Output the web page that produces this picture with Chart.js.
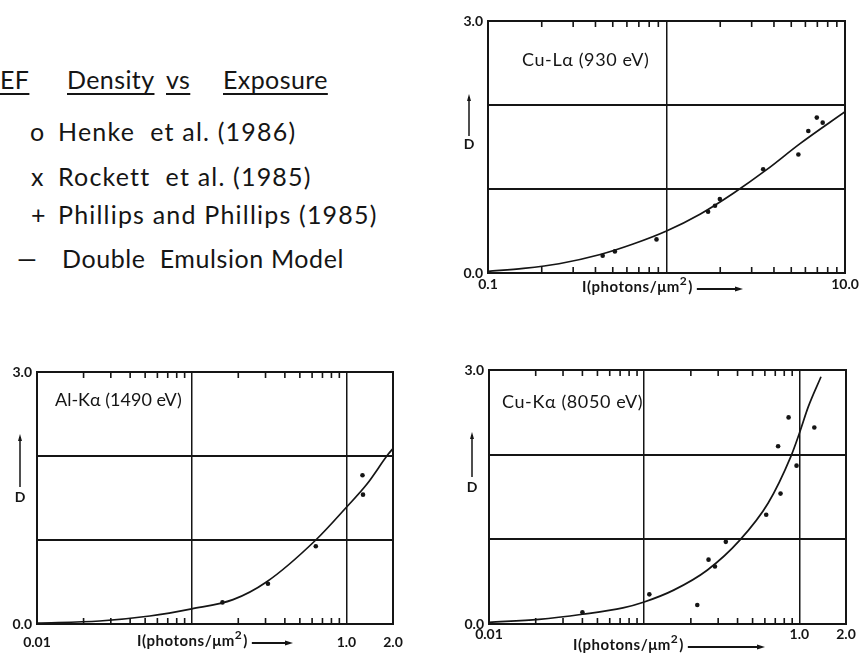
<!DOCTYPE html>
<html>
<head>
<meta charset="UTF-8">
<title>Density vs Exposure</title>
<script src="https://cdn.jsdelivr.net/npm/chart.js"></script>
<style>
  body { margin: 0; background: #fff; }
  #page { position: relative; width: 864px; height: 653px; overflow: hidden; font-family: Lato, "Noto Sans", sans-serif; color: #151515; }
  canvas { position: absolute; }
  .w { position: absolute; font-size: 25px; line-height: 30px; white-space: pre; letter-spacing: 1.2px; }
  .u { text-decoration: underline; text-decoration-thickness: 2px; text-underline-offset: 4px; letter-spacing: 0.4px; }
</style>
</head>
<body>
<div id="page">
  <div class="w u" style="left:0;top:64px">EF</div>
  <div class="w u" style="left:67px;top:64px">Density</div>
  <div class="w u" style="left:166px;top:64px">vs</div>
  <div class="w u" style="left:223px;top:64px">Exposure</div>

  <div class="w" style="left:30px;top:116px">o</div>
  <div class="w" style="left:58px;top:116px">Henke  et al. (1986)</div>
  <div class="w" style="left:31px;top:161px">x</div>
  <div class="w" style="left:58px;top:161px">Rockett  et al. (1985)</div>
  <div class="w" style="left:31px;top:199px">+</div>
  <div class="w" style="left:58px;top:199px">Phillips and Phillips (1985)</div>
  <div class="w" style="left:17px;top:243px">—</div>
  <div class="w" style="left:62px;top:243px;letter-spacing:0.6px">Double  Emulsion Model</div>

  <canvas id="cuLa" width="424" height="300" style="left:440px;top:0"></canvas>
  <canvas id="alKa" width="430" height="323" style="left:0;top:330px"></canvas>
  <canvas id="cuKa" width="424" height="323" style="left:440px;top:330px"></canvas>
</div>

<script>
// Cu-La (930 eV): measured points and model curve
const cuLaX = [0.439, 0.514, 0.879, 1.71, 1.87, 1.99, 3.48, 5.48, 6.23, 6.95, 7.5];
const cuLaD = [0.205, 0.257, 0.40, 0.73, 0.80, 0.88, 1.235, 1.41, 1.69, 1.85, 1.79];
const cuLaModelX = [0.1, 0.158, 0.25, 0.42, 0.65, 1.0, 1.54, 2.37, 3.64, 5.6, 10];
const cuLaModelD = [0.02, 0.055, 0.11, 0.217, 0.345, 0.50, 0.70, 0.95, 1.23, 1.54, 1.92];

// Al-Ka (1490 eV)
const alKaX = [0.158, 0.311, 0.634, 1.27, 1.28];
const alKaD = [0.257, 0.48, 0.925, 1.77, 1.54];
const alKaModelX = [0.01, 0.0254, 0.0536, 0.1, 0.185, 0.304, 0.634, 1.0, 1.35, 1.86, 2.0];
const alKaModelD = [0.01, 0.036, 0.095, 0.18, 0.29, 0.50, 1.00, 1.39, 1.66, 2.02, 2.09];

// Cu-Ka (8050 eV)
const cuKaX = [0.040, 0.108, 0.22, 0.26, 0.286, 0.336, 0.612, 0.73, 0.757, 0.853, 0.96, 1.25];
const cuKaD = [0.138, 0.35, 0.224, 0.76, 0.68, 0.97, 1.29, 2.10, 1.54, 2.44, 1.87, 2.32];
const cuKaModelX = [0.01, 0.021, 0.040, 0.073, 0.1, 0.155, 0.256, 0.411, 0.629, 0.883, 1.0, 1.145, 1.38];
const cuKaModelD = [0.02, 0.055, 0.115, 0.19, 0.26, 0.40, 0.638, 0.984, 1.426, 1.98, 2.25, 2.57, 2.92];

// tick labels
const yLabels = {0: '0.0', 3: '3.0'};
const cuLaXLabels = [[0.1, '0.1'], [10, '10.0']];
const kaXLabels = [[0.01, '0.01'], [1, '1.0'], [2, '2.0']];

const INK = '#151515';
const FONT = 'Lato, "Noto Sans", sans-serif';

function isDecade(v) {
  const l = Math.log10(v);
  return Math.abs(l - Math.round(l)) < 1e-6;
}
function isWholeStep(v) {
  const s = v / Math.pow(10, Math.floor(Math.log10(v) + 1e-9));
  return Math.abs(s - Math.round(s)) < 1e-6;
}
function pairs(xs, ys) {
  return xs.map((x, i) => ({x: x, y: ys[i]}));
}

const framePlugin = {
  id: 'frame',
  afterDraw(chart, args, o) {
    const ctx = chart.ctx;
    const a = chart.chartArea;
    const x = chart.scales.x;
    ctx.save();
    ctx.strokeStyle = INK;
    ctx.fillStyle = INK;

    // minor ticks inside, top and bottom
    ctx.lineWidth = 1.6;
    ctx.beginPath();
    x.ticks.forEach(t => {
      if (isDecade(t.value) || !isWholeStep(t.value)) return;
      const px = x.getPixelForValue(t.value);
      ctx.moveTo(px, a.bottom); ctx.lineTo(px, a.bottom - 6);
      ctx.moveTo(px, a.top); ctx.lineTo(px, a.top + 6);
    });
    ctx.stroke();

    // box
    ctx.lineWidth = 2;
    ctx.strokeRect(a.left, a.top, a.right - a.left, a.bottom - a.top);

    // line label inside the box
    ctx.font = '18px ' + FONT;
    ctx.letterSpacing = o.noteSpacing;
    ctx.textBaseline = 'middle';
    ctx.textAlign = 'left';
    ctx.fillText(o.note, o.noteX, o.noteY);
    ctx.letterSpacing = '0px';

    // D with upward arrow
    ctx.lineWidth = 1.5;
    ctx.beginPath();
    ctx.moveTo(o.dX, o.arrowTop); ctx.lineTo(o.dX, o.arrowBottom);
    ctx.stroke();
    ctx.beginPath();
    ctx.moveTo(o.dX, o.arrowTop - 3); ctx.lineTo(o.dX - 2, o.arrowTop + 4); ctx.lineTo(o.dX + 2, o.arrowTop + 4);
    ctx.closePath(); ctx.fill();
    ctx.font = 'bold 14px ' + FONT;
    ctx.textAlign = 'center';
    ctx.fillText('D', o.dX, o.dY);

    // x axis title with arrow: I(photons/um^2) ---->
    ctx.textAlign = 'left';
    ctx.letterSpacing = '0.5px';
    let cx = o.titleX;
    ctx.font = 'bold 15px ' + FONT;
    const p1 = 'I(photons/\u03bcm';
    ctx.fillText(p1, cx, o.titleY);
    cx += ctx.measureText(p1).width;
    ctx.font = 'bold 12px ' + FONT;
    ctx.fillText('2', cx, o.titleY - 6);
    cx += ctx.measureText('2').width + 1;
    ctx.font = 'bold 15px ' + FONT;
    ctx.fillText(')', cx, o.titleY);
    cx += ctx.measureText(')').width + 4;
    ctx.letterSpacing = '0px';
    ctx.lineWidth = 2;
    ctx.beginPath();
    ctx.moveTo(cx, o.titleY + 2); ctx.lineTo(o.arrowEnd - 5, o.titleY + 2);
    ctx.stroke();
    ctx.beginPath();
    ctx.moveTo(o.arrowEnd, o.titleY + 2); ctx.lineTo(o.arrowEnd - 8, o.titleY - 0.5); ctx.lineTo(o.arrowEnd - 8, o.titleY + 4.5);
    ctx.closePath(); ctx.fill();
    ctx.restore();
  }
};

function makePanel(id, area, xMin, xMax, xLabels, pts, model, frame) {
  const canvas = document.getElementById(id);
  const W = canvas.width, H = canvas.height;
  new Chart(canvas, {
    type: 'line',
    data: {
      datasets: [{
        data: model,
        borderColor: INK,
        borderWidth: 1.7,
        pointRadius: 0,
        cubicInterpolationMode: 'monotone',
        fill: false
      }, {
        data: pts,
        showLine: false,
        pointRadius: 2.3,
        pointBackgroundColor: INK,
        pointBorderWidth: 0
      }]
    },
    options: {
      responsive: false,
      animation: false,
      devicePixelRatio: 1,
      layout: { padding: { left: 0, top: area.top, right: W - area.right, bottom: 0 } },
      plugins: { legend: { display: false }, tooltip: { enabled: false }, frame: frame },
      scales: {
        x: {
          type: 'logarithmic',
          min: xMin,
          max: xMax,
          afterFit: s => { s.height = H - area.bottom; },
          border: { display: false },
          grid: {
            drawTicks: false,
            lineWidth: 1.5,
            color: c => (c.tick && isDecade(c.tick.value)) ? INK : 'rgba(0,0,0,0)'
          },
          ticks: {
            autoSkip: false,
            maxRotation: 0,
            padding: frame.tickPad,
            color: INK,
            font: { family: FONT, size: 14, weight: 'bold' },
            callback: v => {
              const hit = xLabels.find(l => Math.abs(l[0] - v) < 1e-6 * l[0]);
              return hit ? hit[1] : '';
            }
          }
        },
        y: {
          min: 0,
          max: 3,
          afterFit: s => { s.width = area.left; },
          border: { display: false },
          grid: {
            drawTicks: false,
            lineWidth: 2,
            color: c => (c.tick && (c.tick.value === 1 || c.tick.value === 2)) ? INK : 'rgba(0,0,0,0)'
          },
          ticks: {
            stepSize: 1,
            padding: 5,
            color: INK,
            font: { family: FONT, size: 14, weight: 'bold' },
            callback: v => yLabels[v] || ''
          }
        }
      }
    },
    plugins: [framePlugin]
  });
}

makePanel('cuLa', {left: 48, right: 405, top: 21, bottom: 273}, 0.1, 10, cuLaXLabels,
  pairs(cuLaX, cuLaD), pairs(cuLaModelX, cuLaModelD),
  {note: 'Cu-L\u03b1 (930 eV)', noteSpacing: '0.6px', noteX: 82, noteY: 60, dX: 29, arrowTop: 97, arrowBottom: 136, dY: 144,
   titleX: 142, titleY: 287, arrowEnd: 303, tickPad: 3});

makePanel('alKa', {left: 37, right: 393, top: 42, bottom: 294}, 0.01, 2, kaXLabels,
  pairs(alKaX, alKaD), pairs(alKaModelX, alKaModelD),
  {note: 'Al-K\u03b1 (1490 eV)', noteSpacing: '0px', noteX: 55, noteY: 70, dX: 20, arrowTop: 107, arrowBottom: 157, dY: 167,
   titleX: 137, titleY: 311, arrowEnd: 293, tickPad: 10});

makePanel('cuKa', {left: 49, right: 406, top: 40, bottom: 294}, 0.01, 2, kaXLabels,
  pairs(cuKaX, cuKaD), pairs(cuKaModelX, cuKaModelD),
  {note: 'Cu-K\u03b1 (8050 eV)', noteSpacing: '0.6px', noteX: 62, noteY: 72, dX: 32, arrowTop: 105, arrowBottom: 147, dY: 157,
   titleX: 133, titleY: 315, arrowEnd: 325, tickPad: 2});
</script>
</body>
</html>
